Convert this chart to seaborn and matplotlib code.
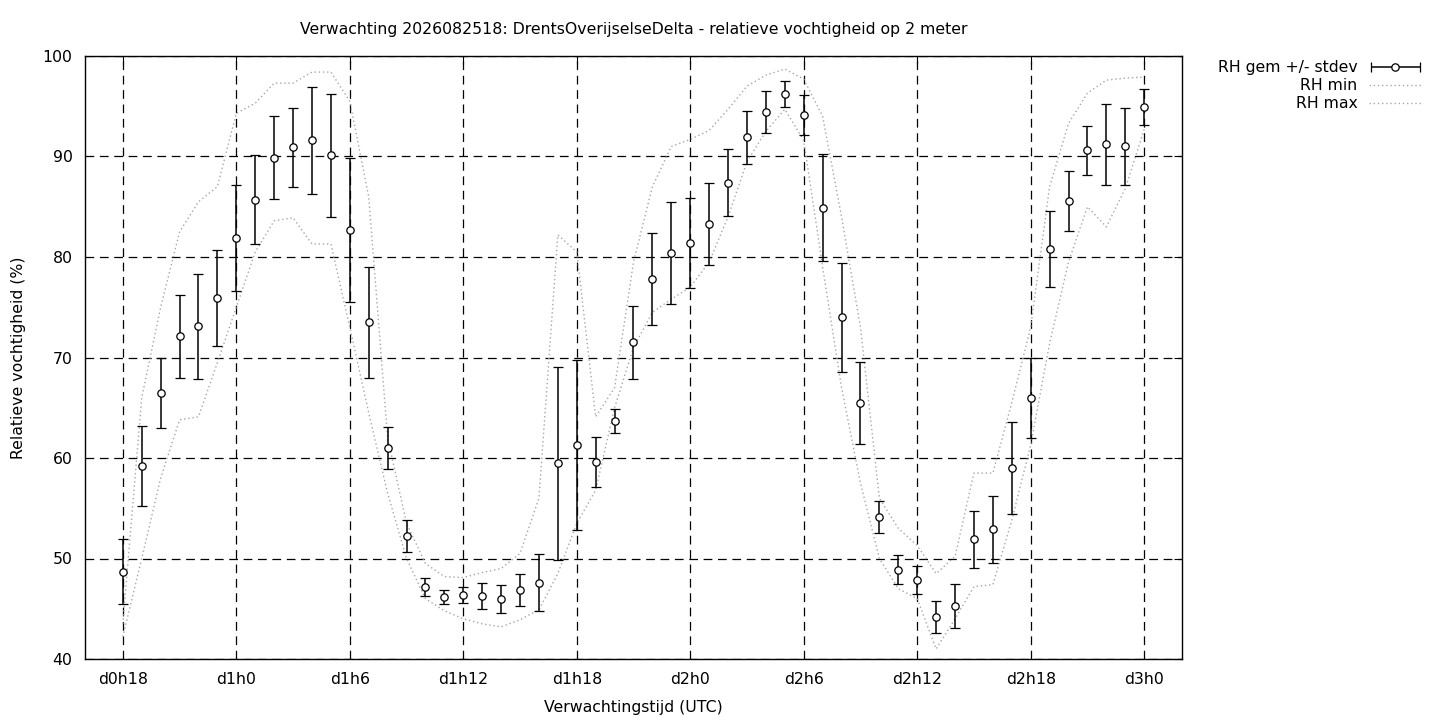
import numpy as np
import pandas as pd
import matplotlib
matplotlib.use("Agg")
import matplotlib.pyplot as plt
import seaborn as sns
from matplotlib.legend_handler import HandlerErrorbar

# uren na d0h18
uren = list(range(55))

rh_gem = [48.7, 59.2, 66.5, 72.1, 73.1, 75.9, 81.9, 85.7, 89.9, 90.9,
          91.6, 90.1, 82.7, 73.5, 61.0, 52.2, 47.2, 46.2, 46.4, 46.3,
          46.0, 46.9, 47.6, 59.5, 61.3, 59.6, 63.7, 71.5, 77.8, 80.4,
          81.4, 83.3, 87.4, 91.9, 94.4, 96.2, 94.1, 84.9, 74.0, 65.5,
          54.1, 48.9, 47.9, 44.2, 45.3, 51.9, 52.9, 59.0, 66.0, 80.8,
          85.6, 90.6, 91.2, 91.0, 94.9]

rh_std = [3.2, 4.0, 3.5, 4.1, 5.2, 4.8, 5.3, 4.4, 4.1, 3.9,
          5.3, 6.1, 7.2, 5.5, 2.1, 1.6, 0.9, 0.7, 0.8, 1.3,
          1.4, 1.6, 2.8, 9.6, 8.5, 2.5, 1.2, 3.6, 4.6, 5.1,
          4.5, 4.1, 3.3, 2.6, 2.1, 1.3, 2.0, 5.3, 5.4, 4.1,
          1.6, 1.4, 1.4, 1.6, 2.2, 2.8, 3.3, 4.6, 4.0, 3.8,
          3.0, 2.4, 4.0, 3.8, 1.8]

rh_min = [42.2, 50.0, 58.0, 63.8, 64.1, 69.5, 75.0, 80.5, 83.6, 83.9,
          81.3, 81.3, 73.0, 64.5, 56.5, 50.0, 46.0, 44.8, 44.0, 43.5,
          43.2, 43.9, 44.9, 48.5, 53.5, 56.8, 65.0, 71.0, 74.5, 75.8,
          77.0, 79.5, 84.0, 89.5, 92.5, 94.7, 91.6, 79.0, 67.0, 57.5,
          50.0, 47.0, 46.0, 41.0, 44.0, 47.2, 47.4, 53.8, 61.3, 71.4,
          79.5, 85.0, 83.0, 86.8, 92.7]

rh_max = [43.5, 66.0, 75.0, 82.5, 85.5, 87.0, 94.3, 95.3, 97.3, 97.3,
          98.4, 98.4, 95.5, 86.0, 62.0, 53.5, 49.5, 48.2, 48.1, 48.6,
          49.0, 50.5, 56.0, 82.2, 80.5, 64.1, 67.0, 79.5, 87.0, 91.0,
          91.7, 92.6, 94.7, 97.0, 98.1, 98.7, 97.7, 94.0, 84.0, 73.0,
          56.0, 53.0, 51.3, 48.5, 50.2, 58.5, 58.5, 65.5, 73.0, 87.0,
          93.3, 96.3, 97.6, 97.8, 97.9]

tick_uren = list(range(0, 55, 6))
tick_labels = ["d%dh%d" % ((18 + u) // 24, (18 + u) % 24) for u in tick_uren]

df = pd.DataFrame({"uur": uren, "gem": rh_gem, "std": rh_std,
                   "min": rh_min, "max": rh_max})

sns.set_style("white")
plt.rcParams["font.family"] = ["DejaVu Sans"]
plt.rcParams["font.size"] = 11.3
for k in ["text.color", "axes.labelcolor", "xtick.color", "ytick.color"]:
    plt.rcParams[k] = "black"

fs = 11.3
fig = plt.figure(figsize=(14.4, 7.2), dpi=100)
ax = fig.add_axes([85 / 1440, 1 - 659 / 720, (1182 - 85) / 1440, (659 - 56) / 720])

grijs = "#a6a6a6"
sns.lineplot(data=df, x="uur", y="min", ax=ax, color=grijs, lw=1.0,
             linestyle=(0, (1, 2)), label="RH min", legend=False)
sns.lineplot(data=df, x="uur", y="max", ax=ax, color=grijs, lw=1.0,
             linestyle=(0, (1, 2)), label="RH max", legend=False)

ax.errorbar(df["uur"], df["gem"], yerr=df["std"], fmt="o", color="black",
            mfc="white", mec="black", ms=5.3, mew=0.9, elinewidth=1.1,
            capsize=3.3, capthick=1.1, zorder=5)

# legend proxy with horizontal bar like gnuplot
proxy = ax.errorbar([np.nan], [np.nan], xerr=[1], fmt="o", color="black",
                    mfc="white", mec="black", ms=5.3, mew=0.9, elinewidth=1.1,
                    capsize=3.3, capthick=1.1)

ax.set_xlim(-2, 56)
ax.set_ylim(40, 100)
ax.set_xticks(tick_uren)
ax.set_xticklabels(tick_labels)
ax.set_yticks(range(40, 101, 10))
ax.grid(True, color="black", linestyle=(0, (7, 4.5)), linewidth=0.9)
ax.tick_params(direction="in", length=6, top=True, right=True, labelsize=fs, pad=9)
for s in ax.spines.values():
    s.set_color("black")
    s.set_linewidth(1.0)

ax.set_xlabel("Verwachtingstijd (UTC)", fontsize=fs, labelpad=10)
ax.set_ylabel("Relatieve vochtigheid (%)", fontsize=fs, labelpad=12)
ax.set_title("Verwachting 2026082518: DrentsOverijselseDelta - relatieve vochtigheid op 2 meter",
             fontsize=fs, pad=16)

lines = ax.get_lines()
h_min = [l for l in lines if l.get_label() == "RH min"][0]
h_max = [l for l in lines if l.get_label() == "RH max"][0]
fig.legend([proxy, h_min, h_max], ["RH gem +/- stdev", "RH min", "RH max"],
           loc="upper right", bbox_to_anchor=(1436 / 1440, 1 - 46 / 720),
           frameon=False, markerfirst=False, fontsize=fs, handlelength=3.4,
           labelspacing=0.2, handletextpad=0.7,
           handler_map={type(proxy): HandlerErrorbar(xerr_size=1.55, numpoints=1)})

fig.savefig("out.png", dpi=100)
